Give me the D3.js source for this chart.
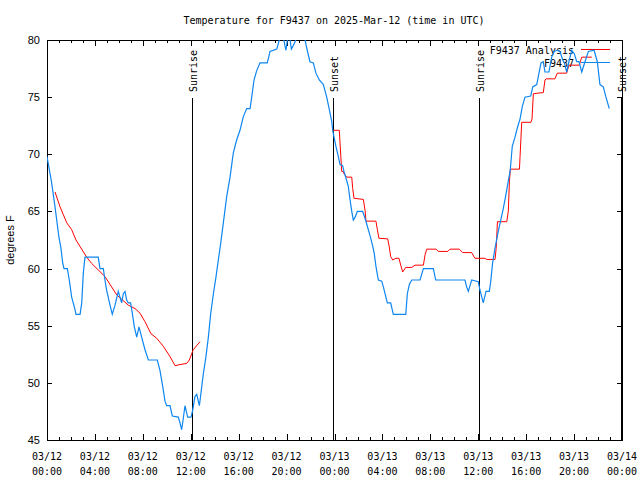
<!DOCTYPE html>
<html>
<head>
<meta charset="utf-8">
<script src="https://cdn.jsdelivr.net/npm/d3@7"></script>
<style>
  body { margin: 0; background: #fff; }
  svg { display: block; }
  .mono { font-family: "DejaVu Sans Mono", monospace; font-size: 10px; }
  .sans { font-family: "Liberation Sans", Arial, sans-serif; font-size: 11px; }
</style>
</head>
<body>
<div id="viz"></div>
<script>
// hours after 2025-03-12 00:00 UTC
const obsHours = [0.00, 0.39, 0.67, 1.00, 1.15, 1.31, 1.42, 1.70, 1.86, 2.06, 2.34, 2.42, 2.76, 2.90, 3.03, 3.17, 4.28, 4.42, 4.70, 4.84,
  4.98, 5.26, 5.45, 5.68, 5.95, 6.09, 6.23, 6.37, 6.51, 6.65, 6.78, 6.98, 7.12, 7.29, 7.49, 7.68, 7.90, 8.18, 8.46, 9.21,
  9.43, 9.66, 9.85, 9.99, 10.27, 10.46, 10.96, 11.10, 11.24, 11.38, 11.52, 11.74, 12.02, 12.16, 12.35, 12.50, 12.72, 12.83, 13.05, 13.27,
  13.47, 13.67, 13.89, 14.11, 14.30, 14.50, 14.72, 15.00, 15.28, 15.55, 15.83, 16.11, 16.39, 16.67, 16.95, 17.09, 17.28, 17.50, 17.78, 18.39,
  18.62, 19.18, 19.45, 19.70, 19.86, 19.95, 20.10, 20.25, 20.40, 20.55, 20.77, 20.90, 21.45, 21.68, 21.95, 22.23, 22.45, 22.73, 23.07, 23.35,
  23.57, 23.77, 23.85, 23.96, 24.12, 24.32, 24.46, 24.68, 24.79, 24.96, 25.15, 25.30, 25.44, 25.57, 25.72, 25.91, 26.35, 26.55, 26.74, 26.96,
  27.16, 27.32, 27.46, 27.66, 27.94, 28.08, 28.22, 28.41, 28.69, 28.91, 29.95, 30.08, 30.25, 30.45, 31.14, 31.42, 32.25, 32.45, 34.89, 35.03,
  35.17, 35.45, 36.00, 36.15, 36.42, 36.65, 36.92, 37.04, 37.20, 37.40, 37.62, 37.76, 38.06, 38.28, 38.50, 38.67, 38.84, 39.07, 39.26, 39.49,
  39.68, 39.90, 40.38, 40.55, 40.88, 41.07, 41.24, 41.43, 41.57, 41.90, 42.13, 42.32, 42.60, 42.82, 43.05, 43.19, 43.38, 43.60, 43.80, 44.02,
  44.22, 44.41, 44.64, 44.91, 45.19, 45.67, 45.94, 46.16, 46.44, 46.66, 46.94];
const obsTemps = [69.8, 67.5, 65.4, 62.7, 61.9, 60.5, 60.0, 60.0, 59.0, 57.5, 56.4, 56.0, 56.0, 57.0, 59.6, 61.0, 61.0, 60.0, 60.0, 59.0,
  58.1, 56.8, 56.0, 56.8, 58.0, 57.5, 57.0, 57.8, 58.0, 57.25, 57.0, 57.0, 56.1, 54.9, 54.0, 54.9, 54.0, 52.9, 52.0, 52.0,
  51.1, 49.7, 48.4, 48.0, 48.0, 47.1, 47.0, 46.5, 45.9, 46.9, 48.0, 47.0, 47.0, 47.6, 48.8, 49.0, 48.0, 48.9, 50.8, 52.3,
  54.0, 56.1, 57.8, 59.3, 60.75, 62.2, 64.0, 66.3, 68.0, 70.1, 71.25, 72.1, 73.3, 74.0, 74.0, 75.0, 76.5, 77.3, 78.0, 78.0,
  79.0, 79.2, 80.2, 80.5, 79.5, 79.1, 80.3, 80.3, 79.2, 79.5, 80.0, 80.5, 80.5, 79.3, 78.1, 78.0, 77.1, 76.5, 76.1, 75.0,
  73.9, 72.85, 72.1, 71.5, 70.7, 69.8, 69.1, 69.0, 68.5, 67.9, 67.2, 66.0, 65.0, 64.25, 64.5, 65.0, 65.0, 64.4, 63.7, 62.9,
  62.1, 61.3, 60.2, 59.0, 58.9, 58.4, 57.8, 57.0, 57.0, 56.0, 56.0, 57.8, 58.6, 59.0, 59.0, 60.0, 60.0, 59.0, 59.0, 58.4,
  58.0, 59.0, 58.85, 58.1, 57.0, 58.0, 58.0, 58.85, 60.5, 61.8, 63.0, 63.7, 65.1, 66.3, 67.6, 68.6, 70.7, 71.5, 72.3, 73.1,
  74.2, 75.0, 75.1, 75.9, 76.1, 77.1, 78.0, 78.1, 77.2, 77.2, 78.5, 79.0, 79.1, 79.0, 78.25, 78.0, 77.2, 78.25, 79.1, 78.8,
  78.1, 78.1, 77.2, 78.1, 79.0, 79.1, 78.1, 76.1, 75.9, 75.0, 74.0];

// analysis series, null = gap
const anaHours = [0.67, 1.09, 1.65, 2.06, 2.42, 3.31, 3.73, 4.84, 5.82, 6.79, 7.35, 7.76, 8.18, 8.68, 9.16, 9.71, 10.27, 10.69, 11.10, 11.66,
  11.88, 12.21, 12.77, 18.0,
  23.85, 24.40, 24.60, 24.73, 24.79, 25.02, 25.44, 25.52, 25.63, 26.41, 26.55, 26.63, 27.46, 27.58, 27.71, 28.44, 28.57, 28.69, 28.86, 29.13,
  29.38, 29.53, 29.69, 29.95, 30.45, 30.72, 31.42, 31.56, 31.70, 32.48, 32.67, 33.46, 33.64, 34.42, 34.70, 35.45, 35.72, 36.56, 36.70, 37.40,
  37.48, 37.52, 37.60, 38.38, 38.51, 38.60, 38.68, 39.44, 39.49, 39.63, 40.40, 40.49, 40.60, 41.43, 41.57, 41.66, 42.40, 42.60, 43.38, 43.57,
  44.43, 44.64, 45.48];
const anaTemps = [66.7, 65.4, 64.0, 63.4, 62.5, 61.0, 60.45, 59.3, 57.7, 56.8, 56.5, 56.1, 55.35, 54.3, 53.9, 53.2, 52.3, 51.5, 51.6, 51.7,
  52.0, 52.9, 53.6, null,
  72.1, 72.1, 68.5, 68.5, 68.3, 68.0, 68.0, 67.0, 66.15, 66.05, 65.1, 64.15, 64.15, 63.4, 62.65, 62.6, 61.9, 61.05, 60.75, 60.9,
  60.9, 60.3, 59.7, 60.1, 60.1, 60.3, 60.3, 61.2, 61.7, 61.7, 61.5, 61.5, 61.7, 61.7, 61.4, 61.4, 60.9, 60.9, 60.8, 60.8,
  61.6, 62.2, 64.1, 64.1, 65.0, 67.6, 68.7, 68.7, 69.8, 72.8, 72.8, 73.1, 75.3, 75.4, 76.5, 76.6, 76.6, 77.1, 77.1, 77.8,
  77.8, 78.5, 78.5];

const eventLabels = ["Sunrise", "Sunset", "Sunrise", "Sunset"];
const eventHours = [12.1, 23.87, 36.06, 47.9];

const yTicks = [45, 50, 55, 60, 65, 70, 75, 80];
const seriesNames = ["F9437 Analysis", "F9437"];
const seriesColors = ["#ff0000", "#0e86f0"];

const width = 640, height = 480;
const mLeft = 47, mRight = 622, mTop = 40, mBottom = 440;
const t0 = Date.UTC(2025, 2, 12);
const toDate = h => new Date(t0 + h * 3600e3);

const svg = d3.select("#viz").append("svg")
  .attr("width", width)
  .attr("height", height);

const x = d3.scaleUtc()
  .domain([new Date(t0), toDate(48)])
  .range([mLeft, mRight]);
const y = d3.scaleLinear()
  .domain([45, 80])
  .range([mBottom, mTop]);

// title
svg.append("text").attr("class", "mono")
  .attr("x", 334).attr("y", 24)
  .attr("text-anchor", "middle")
  .text("Temperature for F9437 on 2025-Mar-12 (time in UTC)");

// axes (ticks point inward)
const major = d3.utcHour.every(4), minor = d3.utcHour.every(1);
const tickAxis = (g, axis) => g.call(axis).call(s => { s.select(".domain").remove(); s.selectAll("text").remove(); });

svg.append("g").attr("transform", `translate(0,${mBottom})`)
  .call(g => tickAxis(g, d3.axisBottom(x).ticks(minor).tickSize(-3)));
svg.append("g").attr("transform", `translate(0,${mBottom})`)
  .call(g => tickAxis(g, d3.axisBottom(x).ticks(major).tickSize(-6)));
svg.append("g").attr("transform", `translate(0,${mTop})`)
  .call(g => tickAxis(g, d3.axisTop(x).ticks(minor).tickSize(-3)));
svg.append("g").attr("transform", `translate(0,${mTop})`)
  .call(g => tickAxis(g, d3.axisTop(x).ticks(major).tickSize(-6)));
svg.append("g").attr("transform", `translate(${mLeft},0)`)
  .call(g => tickAxis(g, d3.axisLeft(y).tickValues(yTicks).tickSize(-5)));
svg.append("g").attr("transform", `translate(${mRight},0)`)
  .call(g => tickAxis(g, d3.axisRight(y).tickValues(yTicks).tickSize(-5)));

svg.selectAll(".tick line").attr("stroke", "#000").attr("shape-rendering", "crispEdges");

// frame
svg.append("rect")
  .attr("x", mLeft + 0.5).attr("y", mTop + 0.5)
  .attr("width", mRight - mLeft).attr("height", mBottom - mTop)
  .attr("fill", "none").attr("stroke", "#000")
  .attr("shape-rendering", "crispEdges");

// y labels
svg.append("g").selectAll("text")
  .data(yTicks).enter().append("text")
  .attr("class", "sans")
  .attr("x", 40).attr("y", d => y(d) + 4)
  .attr("text-anchor", "end")
  .text(d => d);

svg.append("text").attr("class", "sans")
  .attr("transform", "translate(14,240) rotate(-90)")
  .attr("text-anchor", "middle")
  .text("degrees F");

// x labels
const fmtDay = d3.utcFormat("%m/%d"), fmtTime = d3.utcFormat("%H:%M");
const xl = svg.append("g").selectAll("text")
  .data(x.ticks(major)).enter().append("text")
  .attr("class", "mono")
  .attr("text-anchor", "middle");
xl.append("tspan").attr("x", d => x(d)).attr("y", 460).text(fmtDay);
xl.append("tspan").attr("x", d => x(d)).attr("y", 475).text(fmtTime);

// sunrise / sunset
const ev = svg.append("g").selectAll("g")
  .data(eventHours.map((h, i) => ({ h, label: eventLabels[i] })))
  .enter().append("g");
ev.append("line")
  .attr("x1", d => Math.round(x(toDate(d.h))) + 0.5)
  .attr("x2", d => Math.round(x(toDate(d.h))) + 0.5)
  .attr("y1", 98).attr("y2", mBottom)
  .attr("stroke", "#000")
  .attr("shape-rendering", "crispEdges");
ev.append("text").attr("class", "mono")
  .attr("transform", d => `translate(${Math.round(x(toDate(d.h))) + 4.5},92) rotate(-90)`)
  .text(d => d.label);

// legend
const legendY = [50, 63];
const lg = svg.append("g");
seriesNames.forEach((name, i) => {
  lg.append("text").attr("class", "mono")
    .attr("x", 574).attr("y", legendY[i] + 3.5)
    .attr("text-anchor", "end")
    .text(name);
  lg.append("line")
    .attr("x1", 581).attr("x2", 610)
    .attr("y1", legendY[i] - 0.5).attr("y2", legendY[i] - 0.5)
    .attr("stroke", seriesColors[i])
    .attr("shape-rendering", "crispEdges");
});

// data
svg.append("clipPath").attr("id", "plot")
  .append("rect").attr("x", mLeft).attr("y", mTop)
  .attr("width", mRight - mLeft).attr("height", mBottom - mTop);

const line = d3.line()
  .defined(d => d.t != null)
  .x(d => x(toDate(d.h)))
  .y(d => y(d.t));

const ana = anaHours.map((h, i) => ({ h, t: anaTemps[i] }));
const obs = obsHours.map((h, i) => ({ h, t: obsTemps[i] }));

const plot = svg.append("g").attr("clip-path", "url(#plot)");
plot.append("path")
  .attr("d", line(ana))
  .attr("fill", "none")
  .attr("stroke", seriesColors[0])
  .attr("stroke-width", 1);
plot.append("path")
  .attr("d", line(obs))
  .attr("fill", "none")
  .attr("stroke", seriesColors[1])
  .attr("stroke-width", 1.2);
</script>
</body>
</html>
